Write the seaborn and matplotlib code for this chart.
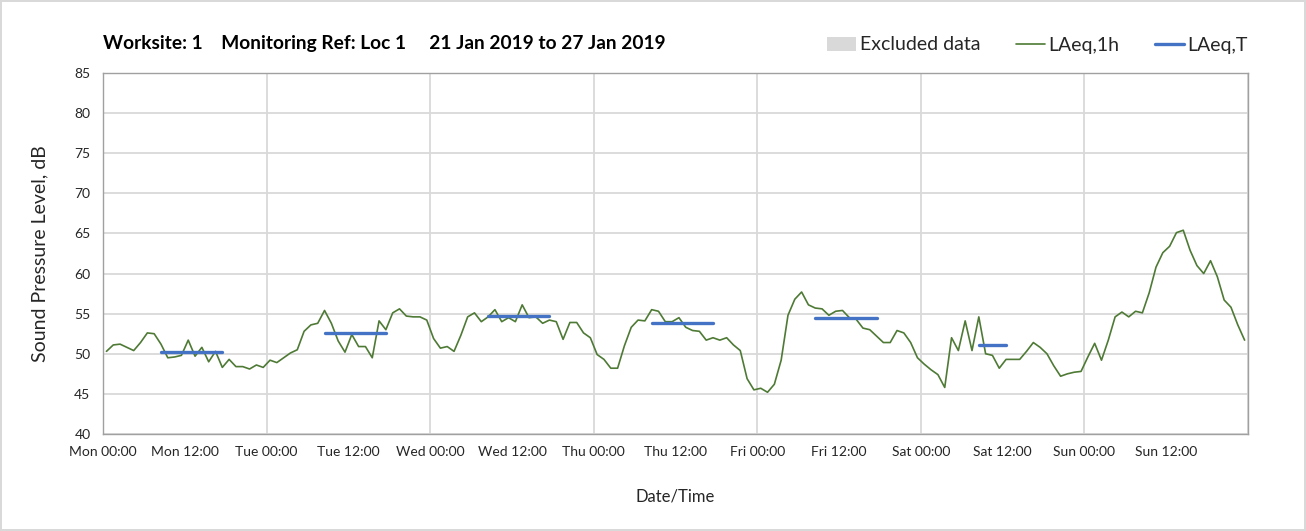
import numpy as np
import pandas as pd
import seaborn as sns
import matplotlib.pyplot as plt
from matplotlib.patches import Patch
from matplotlib.lines import Line2D

sns.set_theme(style='white')
plt.rcParams['font.family'] = ['Lato', 'DejaVu Sans']

#################
## Data
#################
## hourly LAeq, one value per hour from Mon 00:00 (plotted at mid-hour)
hour_mid = np.arange(168) + 0.5
laeq_1h = [
    # Mon
    50.3, 51.1, 51.2, 50.8, 50.4, 51.4, 52.6, 52.5, 51.2, 49.5, 49.6, 49.8,
    51.7, 49.7, 50.8, 49.0, 50.3, 48.3, 49.3, 48.4, 48.4, 48.1, 48.6, 48.3,
    # Tue
    49.2, 48.9, 49.5, 50.1, 50.5, 52.8, 53.6, 53.8, 55.4, 53.8, 51.6, 50.2,
    52.4, 50.9, 50.9, 49.5, 54.1, 53.0, 55.1, 55.6, 54.7, 54.6, 54.6, 54.2,
    # Wed
    51.9, 50.7, 50.9, 50.3, 52.3, 54.6, 55.1, 54.0, 54.6, 55.5, 54.0, 54.5,
    54.0, 56.1, 54.5, 54.6, 53.8, 54.2, 54.0, 51.8, 53.9, 53.9, 52.6, 52.0,
    # Thu
    49.9, 49.3, 48.2, 48.2, 51.0, 53.3, 54.2, 54.1, 55.5, 55.3, 54.0, 54.0,
    54.5, 53.3, 52.9, 52.8, 51.7, 52.0, 51.7, 52.0, 51.1, 50.4, 46.9, 45.5,
    # Fri
    45.7, 45.2, 46.2, 49.2, 54.8, 56.8, 57.7, 56.1, 55.7, 55.6, 54.8, 55.3,
    55.4, 54.5, 54.3, 53.2, 53.0, 52.2, 51.4, 51.4, 52.9, 52.6, 51.4, 49.5,
    # Sat
    48.7, 48.0, 47.4, 45.8, 52.0, 50.4, 54.1, 50.4, 54.6, 50.0, 49.8, 48.2,
    49.3, 49.3, 49.3, 50.3, 51.4, 50.8, 50.0, 48.5, 47.2, 47.5, 47.7, 47.8,
    # Sun
    49.6, 51.3, 49.2, 51.7, 54.6, 55.2, 54.6, 55.3, 55.1, 57.6, 60.8, 62.6,
    63.4, 65.1, 65.4, 62.9, 61.0, 60.0, 61.6, 59.6, 56.7, 55.8, 53.6, 51.7,
]

## LAeq,T over each daytime period
period_start = [8.5, 32.5, 56.5, 80.5, 104.5, 128.5]
period_end = [17.5, 41.5, 65.5, 89.5, 113.5, 132.5]
period_level = [50.2, 52.6, 54.7, 53.8, 54.5, 51.1]

tick_hours = list(range(0, 169, 12))
tick_labels = ['Mon 00:00', 'Mon 12:00', 'Tue 00:00', 'Tue 12:00',
               'Wed 00:00', 'Wed 12:00', 'Thu 00:00', 'Thu 12:00',
               'Fri 00:00', 'Fri 12:00', 'Sat 00:00', 'Sat 12:00',
               'Sun 00:00', 'Sun 12:00', '']
day_hours = list(range(0, 169, 24))

title = 'Worksite: 1    Monitoring Ref: Loc 1     21 Jan 2019 to 27 Jan 2019'

green = '#4e7a35'
blue = '#4472c4'
grid_col = '#d9d9d9'
axis_col = '#a0a0a0'
text_col = '#262626'

#################
## Plot
#################
hourly_df = pd.DataFrame({'hour': hour_mid, 'level': laeq_1h})
period_df = pd.DataFrame({
    'period': list(range(len(period_start))) * 2,
    'hour': period_start + period_end,
    'level': period_level * 2,
})

fig = plt.figure(figsize=(13.06, 5.31), dpi=100)
ax = fig.add_axes([0.0789, 0.1827, 0.8767, 0.6798])

for d in day_hours:
    ax.axvline(d, color=grid_col, lw=1.3, zorder=0.5)
ax.set_yticks(range(40, 86, 5))
ax.yaxis.grid(True, color=grid_col, lw=1.3)
ax.set_axisbelow(True)

sns.lineplot(data=hourly_df, x='hour', y='level', color=green, linewidth=1.2, ax=ax, zorder=3)
sns.lineplot(data=period_df, x='hour', y='level', units='period', estimator=None,
             color=blue, linewidth=2.4, ax=ax, zorder=4)

ax.set_xlim(0, 168)
ax.set_ylim(40, 85)
ax.set_xticks(tick_hours)
ax.set_xticklabels(tick_labels)
ax.tick_params(axis='both', direction='out', length=4, width=1, color=axis_col,
               labelsize=10, labelcolor=text_col, pad=5)
for sp in ax.spines.values():
    sp.set_color(axis_col)
    sp.set_linewidth(1)

ax.set_xlabel('Date/Time', fontsize=12, color=text_col)
ax.xaxis.set_label_coords(0.5, -0.15)
ax.set_ylabel('Sound Pressure Level, dB', fontsize=14, color=text_col)
ax.yaxis.set_label_coords(-0.048, 0.5)

fig.text(103 / 1306, 1 - 43 / 531, title, ha='left', va='center',
         fontsize=13.8, fontweight='bold', color='black')

handles = [Patch(facecolor=grid_col, edgecolor='none', label='Excluded data'),
           Line2D([], [], color=green, lw=1.2, label='LAeq,1h'),
           Line2D([], [], color=blue, lw=2.4, label='LAeq,T')]
fig.legend(handles=handles, loc='center right', bbox_to_anchor=(0.9556, 1 - 45 / 531),
           ncol=3, frameon=False, fontsize=14, handlelength=1.5, handletextpad=0.2,
           columnspacing=1.8, borderpad=0, borderaxespad=0, labelcolor=text_col)

fig.patch.set_edgecolor(grid_col)
fig.patch.set_linewidth(1.5)
fig.savefig('out.png', dpi=100, edgecolor=fig.get_edgecolor())
